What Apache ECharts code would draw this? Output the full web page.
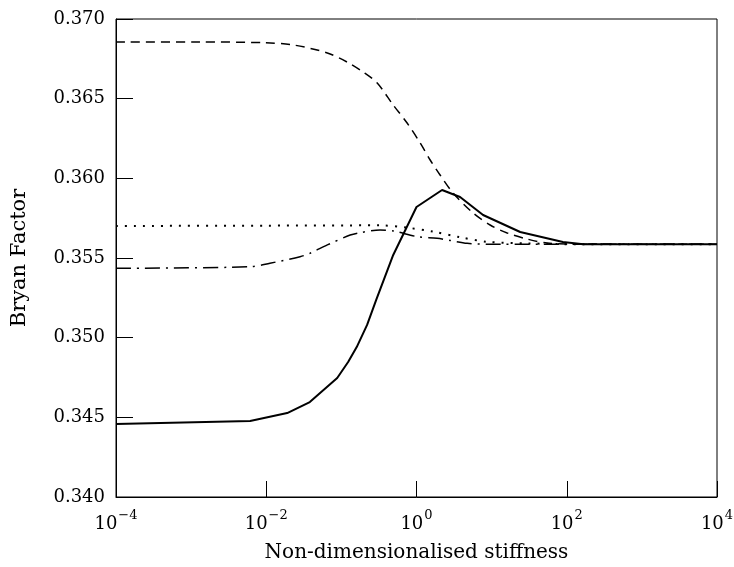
<!DOCTYPE html>
<html>
<head>
<meta charset="utf-8">
<script src="https://cdn.jsdelivr.net/npm/echarts@6/dist/echarts.min.js"></script>
<style>html,body{margin:0;padding:0;background:#fff}#c{width:734px;height:567px}</style>
</head>
<body>
<div id="c"></div>
<script>
// Non-dimensionalised stiffness (x) and Bryan factor (y)
const solidX = [1e-4, 0.0061, 0.019, 0.038, 0.088, 0.123, 0.16, 0.22, 0.29, 0.49, 1.0, 2.19, 3.8, 7.7, 24, 89, 166, 1e4];
const solidY = [0.34458, 0.34477, 0.34527, 0.34596, 0.34747, 0.34847, 0.34941, 0.35080, 0.35236, 0.35519, 0.35820, 0.35927, 0.35883, 0.35770, 0.35663, 0.35600, 0.35586, 0.35586];
const dashX = [1e-4, 0.0013, 0.0096, 0.023, 0.065, 0.119, 0.195, 0.30, 0.49, 0.75, 1.12, 1.52, 2.06, 3.07, 5.68, 9.55, 16.1, 29.7, 54.8, 151, 1e4];
const dashY = [0.36856, 0.36856, 0.36851, 0.36837, 0.36787, 0.36730, 0.36667, 0.36598, 0.36460, 0.36347, 0.36222, 0.36115, 0.36021, 0.35908, 0.35782, 0.35707, 0.35657, 0.35619, 0.35594, 0.35588, 0.35586];
const dotX = [1e-4, 0.01, 0.33, 0.76, 1.68, 3.82, 8.66, 29.7, 151, 1e4];
const dotY = [0.35701, 0.35703, 0.35705, 0.35690, 0.35665, 0.35630, 0.35602, 0.35592, 0.35586, 0.35586];
const dashDotX = [1e-4, 0.0061, 0.0112, 0.0282, 0.0383, 0.065, 0.131, 0.178, 0.327, 0.49, 1.02, 1.88, 2.80, 4.72, 12.9, 100, 1e4];
const dashDotY = [0.35435, 0.35445, 0.35467, 0.35508, 0.35530, 0.35582, 0.35644, 0.35659, 0.35676, 0.35670, 0.35634, 0.35624, 0.35610, 0.35592, 0.35586, 0.35586, 0.35586];
const yTicks = [0.340, 0.345, 0.350, 0.355, 0.360, 0.365, 0.370];
const xName = 'Non-dimensionalised stiffness';
const yName = 'Bryan Factor';

const FONT = 'DejaVu Serif';
function pairs(xs, ys) { return xs.map((x, i) => [x, ys[i]]); }
const chart = echarts.init(document.getElementById('c'), null, {renderer: 'canvas'});
const lineBase = {type: 'line', showSymbol: false, symbol: 'none', smooth: false, z: 3};
chart.setOption({
  animation: false,
  backgroundColor: '#fff',
  grid: {left: 116, right: 17, top: 19, bottom: 70, show: true, borderColor: '#000', borderWidth: 1,
         containLabel: false, outerBoundsMode: 'none'},
  xAxis: {
    type: 'log', logBase: 10, min: 1e-4, max: 1e4, interval: 2,
    name: xName, nameLocation: 'middle', nameGap: 46,
    nameTextStyle: {fontFamily: FONT, fontSize: 20, color: '#000'},
    axisLine: {lineStyle: {color: '#000', width: 1}},
    axisTick: {inside: true, length: 16, lineStyle: {color: '#000'}},
    minorTick: {show: false},
    splitLine: {show: false},
    axisLabel: {
      margin: 12,
      formatter: function (v) {
        const e = Math.round(Math.log10(v));
        return '{b|10}{s|' + (e < 0 ? '\u2212' : '') + Math.abs(e) + '}';
      },
      rich: {
        b: {fontFamily: FONT, fontSize: 18, color: '#000', lineHeight: 24, verticalAlign: 'bottom'},
        s: {fontFamily: FONT, fontSize: 13, color: '#000', lineHeight: 24, verticalAlign: 'top', padding: [0, 0, 0, 1]}
      }
    }
  },
  yAxis: {
    type: 'value', min: 0.340, max: 0.370, interval: 0.005,
    name: yName, nameLocation: 'middle', nameGap: 86,
    nameTextStyle: {fontFamily: FONT, fontSize: 21, color: '#000'},
    axisLine: {show: true, lineStyle: {color: '#000', width: 1}},
    axisTick: {inside: true, length: 17, lineStyle: {color: '#000'}},
    splitLine: {show: false},
    axisLabel: {
      margin: 11, fontFamily: FONT, fontSize: 18, color: '#000',
      formatter: v => v.toFixed(3)
    }
  },
  series: [
    Object.assign({}, lineBase, {name: 'solid', data: pairs(solidX, solidY), lineStyle: {color: '#000', width: 2}}),
    Object.assign({}, lineBase, {name: 'dashed', data: pairs(dashX, dashY), smooth: 0.3, lineStyle: {color: '#000', width: 1.5, type: [9, 6]}}),
    Object.assign({}, lineBase, {name: 'dotted', data: pairs(dotX, dotY), smooth: 0.3, lineStyle: {color: '#000', width: 2, type: [2, 7]}}),
    Object.assign({}, lineBase, {name: 'dashdot', data: pairs(dashDotX, dashDotY), smooth: 0.3, lineStyle: {color: '#000', width: 1.5, type: [15, 6, 2, 6]}})
  ]
});
</script>
</body>
</html>
